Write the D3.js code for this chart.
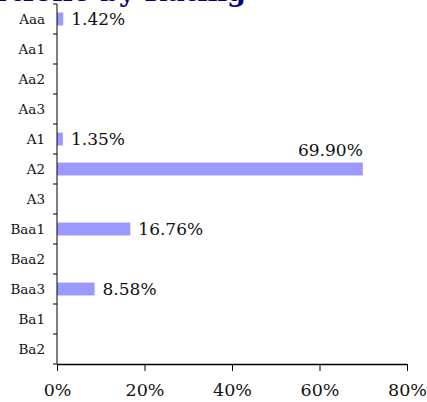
<!DOCTYPE html>
<html>
<head>
<meta charset="utf-8">
<script src="https://cdn.jsdelivr.net/npm/d3@7"></script>
<style>
  body { margin: 0; background: #fff; }
  svg { display: block; font-family: "DejaVu Serif", serif; }
</style>
</head>
<body>
<div id="chart"></div>
<script>
// ratings and share of portfolio (%)
const ratings = ["Aaa", "Aa1", "Aa2", "Aa3", "A1", "A2", "A3", "Baa1", "Baa2", "Baa3", "Ba1", "Ba2"];
const shares = [1.42, 0, 0, 0, 1.35, 69.90, 0, 16.76, 0, 8.58, 0, 0];
const xTicks = [0, 20, 40, 60, 80];

const width = 427, height = 402;
const margin = {top: 4, right: 20, bottom: 38, left: 57};

let svg = d3.select("#chart")
    .append("svg")
    .attr("width", width)
    .attr("height", height);

// title, mostly cut off at the top
svg.append("text")
    .attr("x", 246)
    .attr("y", 0.7)
    .style("text-anchor", "end")
    .style("font-size", "27px")
    .style("font-weight", "bold")
    .style("fill", "#000080")
    .text("Portfolio by Rating");

let g = svg.append("g")
    .attr("transform", `translate(${margin.left}, ${margin.top})`);

let w = width - margin.left - margin.right;
let h = height - margin.top - margin.bottom;

let x = d3.scaleLinear().domain([0, 80]).range([0, w]);
let y = d3.scaleBand().domain(ratings).range([0, h]).paddingInner(0.57).paddingOuter(0.285);
let yb = d3.scaleBand().domain(ratings).range([0, h]);

// bars
let data = ratings.map((r, i) => ({rating: r, value: shares[i]}));
g.selectAll("rect")
    .data(data.filter(d => d.value > 0))
    .enter()
    .append("rect")
    .attr("x", 0)
    .attr("y", d => y(d.rating))
    .attr("width", d => x(d.value))
    .attr("height", y.bandwidth())
    .style("fill", "#9999ff");

// value labels (the long bar gets its label above the end)
g.selectAll(".val")
    .data(data.filter(d => d.value > 0))
    .enter()
    .append("text")
    .attr("class", "val")
    .attr("x", d => d.value > 50 ? x(d.value) : x(d.value) + 8)
    .attr("y", d => d.value > 50 ? y(d.rating) - 13 : y(d.rating) + y.bandwidth() / 2)
    .attr("dy", "0.35em")
    .style("text-anchor", d => d.value > 50 ? "end" : "start")
    .style("font-size", "17px")
    .style("fill", "#111")
    .text(d => d.value.toFixed(2) + "%");

// y axis: line with ticks at band edges
g.append("line")
    .attr("x1", 0).attr("x2", 0)
    .attr("y1", 0).attr("y2", h)
    .style("stroke", "#000");
g.selectAll(".ytick")
    .data(ratings.slice(1).concat(["end"]))
    .enter()
    .append("line")
    .attr("x1", -4).attr("x2", 0)
    .attr("y1", d => d === "end" ? h : yb(d))
    .attr("y2", d => d === "end" ? h : yb(d))
    .style("stroke", "#000");
g.append("line")
    .attr("x1", -4).attr("x2", 0)
    .attr("y1", 0).attr("y2", 0)
    .style("stroke", "#000");
g.selectAll(".ylab")
    .data(ratings)
    .enter()
    .append("text")
    .attr("x", -12)
    .attr("y", d => yb(d) + yb.bandwidth() / 2)
    .attr("dy", "0.35em")
    .style("text-anchor", "end")
    .style("font-size", "13.5px")
    .style("fill", "#111")
    .text(d => d);

// x axis
let xAxis = g.append("g")
    .attr("transform", `translate(0, ${h})`)
    .call(d3.axisBottom(x).tickValues(xTicks).tickSize(7).tickSizeOuter(0).tickPadding(13).tickFormat(d => d + "%"));
xAxis.select(".domain").style("stroke", "#000").style("stroke-width", 1.5);
xAxis.selectAll("text").style("font-size", "17.5px").style("font-family", "DejaVu Serif, serif").style("fill", "#111");
</script>
</body>
</html>
